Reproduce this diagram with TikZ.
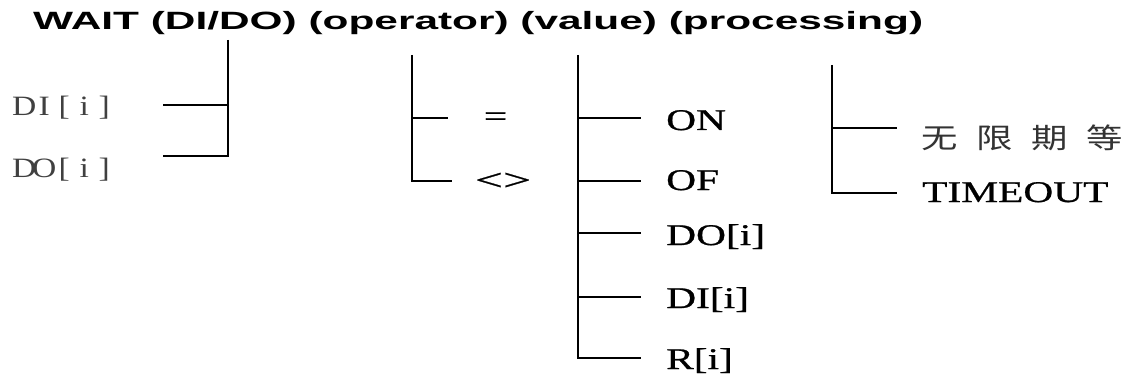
\documentclass[tikz,border=0pt]{standalone}
\usepackage{fontspec}
\setmainfont{Liberation Serif}
\newfontfamily\titlefont{Liberation Sans}[FakeStretch=1.695]
\newfontfamily\itemfont{Liberation Serif}[FakeStretch=1.38,FakeBold=0.8]
\newfontfamily\monofont{Liberation Serif}[FakeStretch=1.2]
\newfontfamily\cjk{Noto Sans CJK SC}[FakeStretch=1.3]
% fixed-width cells for the half-width signal names
\newcommand\cellch[1]{\makebox[20pt]{#1}}
\newcommand\cjkcell[1]{\makebox[55pt][l]{#1}}
\begin{document}
\begin{tikzpicture}[x=1pt,y=-1pt,
  bus/.style={line width=2pt,line join=miter},
  titletext/.style={inner sep=0pt,anchor=base west,font=\titlefont\bfseries\fontsize{25}{25}\selectfont},
  itemtext/.style={inner sep=0pt,anchor=base west,font=\itemfont\fontsize{30}{30}\selectfont},
  sigtext/.style={inner sep=0pt,anchor=base west,text=black!75,font=\monofont\fontsize{28}{28}\selectfont},
  optext/.style={inner sep=0pt,anchor=base,font=\itemfont\fontsize{30}{30}\selectfont},
  cjktext/.style={inner sep=0pt,anchor=base west,text=black!80,font=\cjk\fontsize{28}{28}\selectfont}]
\useasboundingbox (0,0) rectangle (1130,377);

% heading
\node[titletext] (title) at (33,30) {WAIT (DI/DO) (operator) (value) (processing)};

% signal choices
\node[sigtext] (sdi) at (14,116) {\cellch{D}\cellch{I}\cellch{[}\cellch{i}\cellch{]}};
\node[sigtext] (sdo) at (14,177) {\cellch{D}\cellch{O}\cellch{[}\cellch{i}\cellch{]}};
\coordinate (g1top) at (228,40);
\coordinate (g1di) at (228,105);
\coordinate (g1dix) at (163,105);
\coordinate (g1dox) at (163,156);
\draw[bus] (g1top) |- (g1dox);
\draw[bus] (g1di) -- (g1dix);

% operator choices
\node[optext] (opeq) at (495.5,126) {=};
\node[optext] (opne) at (503,190) {\scalebox{1.2}[1]{<>}};
\coordinate (g2top) at (412,55);
\coordinate (g2eq) at (412,118);
\coordinate (g2eqx) at (448,118);
\coordinate (g2nex) at (452,181);
\draw[bus] (g2top) |- (g2nex);
\draw[bus] (g2eq) -- (g2eqx);

% value choices
\node[itemtext] (von) at (666,130) {ON};
\node[itemtext] (vof) at (666,190) {OF};
\node[itemtext] (vdo) at (666,245) {DO[i]};
\node[itemtext] (vdi) at (666,308) {DI[i]};
\node[itemtext] (vr) at (666,369) {R[i]};
\coordinate (g3top) at (578,55);
\foreach \y/\n in {118/a,181/b,233/c,297/d} {
  \coordinate (g3\n) at (578,\y);
  \coordinate (g3\n x) at (641,\y);
  \draw[bus] (g3\n) -- (g3\n x);
}
\coordinate (g3ex) at (641,358);
\draw[bus] (g3top) |- (g3ex);

% processing choices
\node[cjktext] (pwait) at (921,149) {\cjkcell{无}\cjkcell{限}\cjkcell{期}等};
\node[itemtext] (ptime) at (922,202) {TIMEOUT};
\coordinate (g4top) at (832,65);
\coordinate (g4a) at (832,128);
\coordinate (g4ax) at (897,128);
\coordinate (g4bx) at (897,193);
\draw[bus] (g4top) |- (g4bx);
\draw[bus] (g4a) -- (g4ax);
\end{tikzpicture}
\end{document}
